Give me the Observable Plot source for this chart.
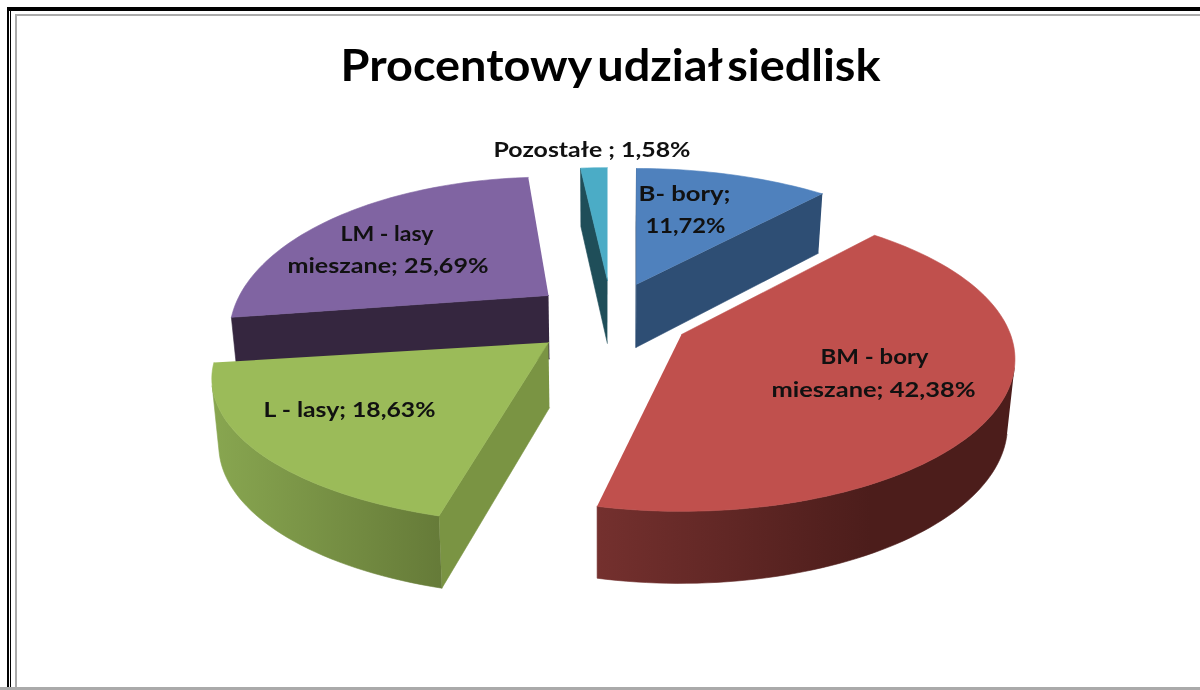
<!DOCTYPE html>
<html><head><meta charset="utf-8">
<script src="https://cdn.jsdelivr.net/npm/d3@7"></script>
<script src="https://cdn.jsdelivr.net/npm/@observablehq/plot@0.6"></script>
<style>html,body{margin:0;padding:0;background:#fff;overflow:hidden}svg{display:block;filter:blur(.5px)}</style>
</head><body><div id="chart"></div>
<script>
// Data
const categories = ["B - bory","BM - bory mieszane","L - lasy","LM - lasy mieszane","Pozostałe"];
const shares = [11.72,42.38,18.63,25.69,1.58];
const topColors = ["#4f81bd","#c0504d","#9bbb59","#8064a2","#4bacc6"];
const wallColors = ["#2e4e74","#4e1f1d","#7a9443","#35263f","#1f4e59"];
const titleText = "Procentowy udział siedlisk";
const labelLines = ["B- bory;","11,72%","BM - bory","mieszane; 42,38%","L - lasy; 18,63%","LM - lasy","mieszane; 25,69%","Pozostałe ; 1,58%"];

// Layout of the drawing: apex, radii, perspective of each exploded slice
const apexX = [636,681,548,548,607];
const apexY = [284,334,342,295,280];
const radiusX = [328,329,326,309,340];
const radiusY = [145,148,136,148,141];
const persp = [.25,.163,.25,.25,.25];
const startNudge = [0,-1,0,0,0];
const endNudge = [0,-2.3,0,1,0];
const drawOrder = [3,4,0,2,1];
const labelX = [684,685,874,873,349,386.5,387.5,591.5];
const labelY = [200,232,363,396,416,240,272,156];
const labelWidth = [92,80,108,204,172,93,201,197];
const frameX1 = [7,7,10,15,15,0], frameX2 = [1200,9,11,1200,17,1200];
const frameY1 = [7,7,7,14,14,687], frameY2 = [11,690,690,16,690,690];
const frameColor = ["#000","#000","#000","#aaa","#aaa","#aaa"];

const rad = d => d*Math.PI/180;
const under = ([x,y]) => [x+(600-x)*.018, y+63+(y-284)*.04];
const area = q => d3.sum(q,(p,i)=>{const n=q[(i+1)%q.length];return p[0]*n[1]-n[0]*p[1];});

const faces = [];
let id = 0;
const add = (poly,color) => {id++; poly.forEach(p=>faces.push({x:p[0],y:p[1],id,color}));};
const starts = Array.from(d3.cumsum([0,...shares]),v=>v*3.6);

drawOrder.forEach(i=>{
  const a0 = starts[i]+startNudge[i], a1 = starts[i]+shares[i]*3.6+endNudge[i];
  const pt = th => {
    const s = 1/(1+persp[i]*Math.cos(rad(th)));
    return [apexX[i]+radiusX[i]*Math.sin(rad(th))*s, apexY[i]-radiusY[i]*Math.cos(rad(th))*s];
  };
  const n = Math.max(2,Math.ceil((a1-a0)/1.5));
  const arc = d3.range(n+1).map(k=>pt(a0+(a1-a0)*k/n));
  const apex = [apexX[i],apexY[i]];
  const wall = i===1 ? "url(#wallBM)" : i===2 ? "url(#wallL)" : wallColors[i];
  const tryWall = q => { if(area(q)<0) add(q,wallColors[i]); };
  tryWall([apex,arc[0],under(arc[0]),under(apex)]);
  tryWall([arc[n],apex,under(apex),under(arc[n])]);
  // outer wall: the part of the arc facing the viewer, one shaded polygon
  const seen = d3.pairs(arc.map((p,k)=>k)).filter(([a,b])=>area([arc[a],arc[b],under(arc[b]),under(arc[a])])<0);
  if(seen.length){
    const top = arc.slice(seen[0][0],seen[seen.length-1][1]+1);
    add([...top,...top.map(under).reverse()],wall);
  }
  add([apex,...arc],topColors[i]);
});

const frame = frameX1.map((x1,k)=>({x1,x2:frameX2[k],y1:frameY1[k],y2:frameY2[k],c:frameColor[k]}));
const labels = labelLines.map((t,k)=>({t,x:labelX[k],y:labelY[k]}));

const gradients = () => {
  const defs = d3.create("svg:defs");
  const grad = (gid,x1,x2,c1,c2) => {
    const g = defs.append("linearGradient").attr("id",gid).attr("gradientUnits","userSpaceOnUse")
      .attr("x1",x1).attr("x2",x2).attr("y1",0).attr("y2",0);
    g.append("stop").attr("offset",0).attr("stop-color",c1);
    g.append("stop").attr("offset",1).attr("stop-color",c2);
  };
  grad("wallBM",597,870,"#74302e","#4c1d1b");
  grad("wallL",213,444,"#88a650","#657a38");
  return defs.node();
};

const chart = Plot.plot({
  width:1200,height:690,margin:0,
  x:{domain:[0,1200],range:[0,1200],axis:null},
  y:{domain:[0,690],range:[0,690],axis:null},
  color:{type:"identity"},
  style:{background:"#fff"},
  marks:[
    gradients,
    Plot.rect(frame,{x1:"x1",x2:"x2",y1:"y1",y2:"y2",fill:"c"}),
    Plot.line(faces,{x:"x",y:"y",z:"id",fill:"color",stroke:"color",strokeWidth:.6,curve:"linear"}),
    Plot.text(labels,{x:"x",y:"y",text:"t",fontFamily:"Lato",fontWeight:700,fontSize:21,fill:"#111",textAnchor:"middle",lineAnchor:"bottom",className:"pie-label"}),
    Plot.text([titleText],{x:[610],y:[80],fontFamily:"Lato",fontWeight:700,fontSize:44,fill:"#000",textAnchor:"middle",lineAnchor:"bottom",className:"pie-title"})
  ]
});
d3.select(chart).selectAll(".pie-label text").attr("textLength",(d,k)=>labelWidth[k]).attr("lengthAdjust","spacingAndGlyphs");
d3.select(chart).selectAll(".pie-title text").attr("textLength",540).attr("lengthAdjust","spacingAndGlyphs").style("word-spacing","-5px");
document.getElementById("chart").append(chart);
</script></body></html>
